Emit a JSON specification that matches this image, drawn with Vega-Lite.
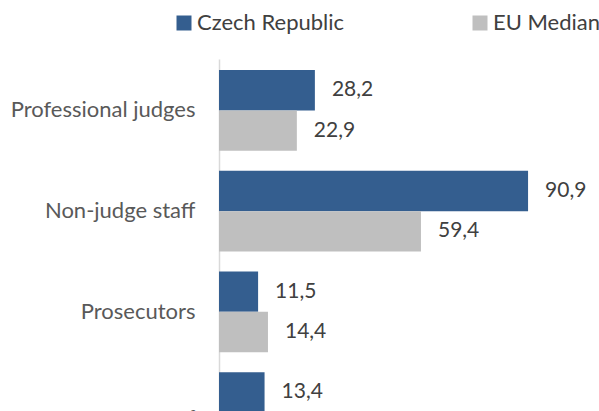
{
  "$schema": "https://vega.github.io/schema/vega-lite/v6.json",
  "width": 340,
  "height": 405,
  "autosize": "none",
  "padding": {"left": 219, "top": 59, "right": 40, "bottom": 0},
  "background": "white",
  "config": {
    "locale": {"number": {"decimal": ",", "thousands": ".", "grouping": [3], "currency": ["", " €"]}},
    "view": {"stroke": null},
    "font": "Lato"
  },
  "data": {
    "values": [
      {"category": "Professional judges", "series": "Czech Republic", "value": 28.2},
      {"category": "Professional judges", "series": "EU Median", "value": 22.9},
      {"category": "Non-judge staff", "series": "Czech Republic", "value": 90.9},
      {"category": "Non-judge staff", "series": "EU Median", "value": 59.4},
      {"category": "Prosecutors", "series": "Czech Republic", "value": 11.5},
      {"category": "Prosecutors", "series": "EU Median", "value": 14.4},
      {"category": "Non-prosecutor staff", "series": "Czech Republic", "value": 13.4},
      {"category": "Non-prosecutor staff", "series": "EU Median", "value": 16.5}
    ]
  },
  "encoding": {
    "y": {
      "field": "category", "type": "nominal",
      "sort": ["Professional judges", "Non-judge staff", "Prosecutors", "Non-prosecutor staff"],
      "scale": {"paddingInner": 0.2, "paddingOuter": 0.11},
      "axis": {
        "title": null, "ticks": false, "labelFontSize": 22, "labelColor": "#595959",
        "labelPadding": 24, "domainColor": "#d9d9d9", "domainWidth": 1.5, "labelLimit": 300,
        "labelOffset": {"condition": {"test": "datum.value == 'Non-prosecutor staff'", "value": 6}, "value": 0}
      }
    },
    "yOffset": {
      "field": "series", "type": "nominal",
      "sort": ["Czech Republic", "EU Median"],
      "scale": {"paddingInner": 0, "paddingOuter": 0}
    },
    "x": {
      "field": "value", "type": "quantitative",
      "scale": {"domain": [0, 100], "nice": false},
      "axis": null
    }
  },
  "layer": [
    {
      "mark": {"type": "bar"},
      "encoding": {
        "color": {
          "field": "series", "type": "nominal",
          "scale": {"domain": ["Czech Republic", "EU Median"], "range": ["#345E8F", "#BFBFBF"]},
          "legend": {
            "title": null, "orient": "none", "direction": "horizontal", "columns": 2,
            "legendX": -46, "legendY": -47,
            "symbolType": "square", "symbolSize": 225, "symbolStrokeWidth": 0,
            "labelFontSize": 22, "labelColor": "#404040", "labelOffset": 2,
            "columnPadding": 124, "labelLimit": 300
          }
        }
      }
    },
    {
      "mark": {"type": "text", "align": "left", "baseline": "middle", "dx": 17, "fontSize": 21, "color": "#404040"},
      "encoding": {
        "text": {"field": "value", "type": "quantitative", "format": ".1f"}
      }
    }
  ]
}
